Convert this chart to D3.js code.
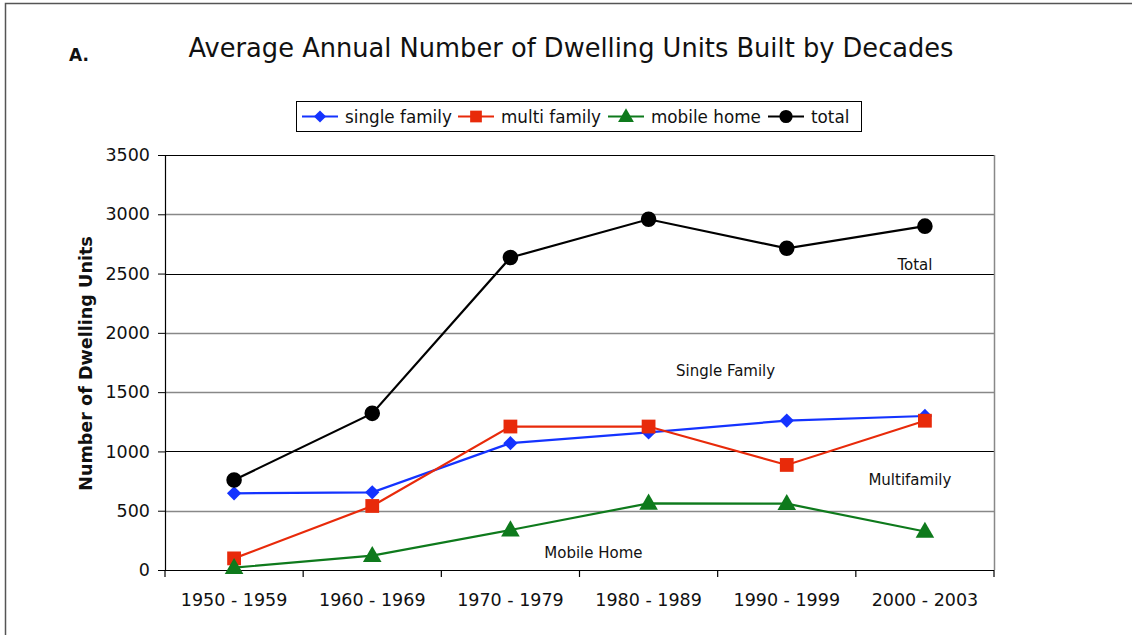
<!DOCTYPE html>
<html>
<head>
<meta charset="utf-8">
<script src="https://cdn.jsdelivr.net/npm/d3@7"></script>
<style>
  body { margin: 0; background: #fff; }
  svg { display: block; font-family: 'DejaVu Sans', sans-serif; }
</style>
</head>
<body>
<svg width="1132" height="635"></svg>
<script>
const w = 1132;
const h = 635;

// decades on the x axis
const decades = ['1950 - 1959', '1960 - 1969', '1970 - 1979', '1980 - 1989', '1990 - 1999', '2000 - 2003'];
// values
const singleFamily = [647, 655, 1070, 1160, 1260, 1299];
const multiFamily = [98, 540, 1210, 1210, 886, 1259];
const mobileHome = [20, 121, 337, 562, 559, 325];
const total = [759, 1321, 2635, 2958, 2713, 2900];
const yTicks = [0, 500, 1000, 1500, 2000, 2500, 3000, 3500];

const seriesNames = ['single family', 'multi family', 'mobile home', 'total'];
const seriesColors = ['#1433ff', '#e82a0a', '#0e7a1c', '#000000'];
const seriesShapes = ['diamond', 'square', 'triangle', 'circle'];
const seriesValues = [singleFamily, multiFamily, mobileHome, total];

const annotations = [
  { text: 'Total', decade: 5, value: 2530, dx: -10 },
  { text: 'Single Family', decade: 3, value: 1635, dx: 77 },
  { text: 'Multifamily', decade: 5, value: 715, dx: -15 },
  { text: 'Mobile Home', decade: 2, value: 105, dx: 83 }
];

const margin = { left: 165, right: 1132 - 994, top: 155, bottom: 635 - 570 };

const svg = d3.select('svg');

// outer frame (top and left edges visible)
svg.append('path')
  .attr('d', `M5.5,${h} L5.5,3.5 L${w},3.5`)
  .attr('fill', 'none')
  .attr('stroke', '#555')
  .attr('stroke-width', 1.5);

const xScale = d3.scaleBand()
  .domain(decades)
  .range([margin.left, w - margin.right]);

const yScale = d3.scaleLinear()
  .domain([0, 3500])
  .range([h - margin.bottom, margin.top]);

// horizontal grid lines
const darkLine = d => d === 1000 || d === 2500 || d === 3500;
svg.append('g')
  .selectAll('line')
  .data(yTicks.filter(d => d > 0))
  .enter()
  .append('line')
  .attr('x1', margin.left)
  .attr('x2', w - margin.right)
  .attr('y1', d => Math.round(yScale(d)) + 0.5)
  .attr('y2', d => Math.round(yScale(d)) + 0.5)
  .attr('stroke', d => darkLine(d) ? '#000' : '#888')
  .attr('stroke-width', d => darkLine(d) ? 1 : 1.6);

// right edge of the plot area
svg.append('line')
  .attr('x1', w - margin.right + 0.5)
  .attr('x2', w - margin.right + 0.5)
  .attr('y1', yScale(3500))
  .attr('y2', yScale(0))
  .attr('stroke', '#888')
  .attr('stroke-width', 1.5);

// y axis
const yAxis = svg.append('g')
  .attr('transform', `translate(${margin.left},0)`)
  .call(d3.axisLeft(yScale).tickValues(yTicks).tickFormat(d3.format('d')).tickSize(7).tickPadding(8).tickSizeOuter(0));
yAxis.select('.domain').attr('stroke', '#000').attr('stroke-width', 1.2);
yAxis.selectAll('.tick line').attr('stroke', '#000');
yAxis.selectAll('.tick text')
  .attr('font-family', 'DejaVu Sans, sans-serif')
  .attr('font-size', 17.5)
  .attr('fill', '#111');

// x axis with ticks on band boundaries
const xAxis = svg.append('g')
  .attr('transform', `translate(0,${yScale(0)})`)
  .call(d3.axisBottom(xScale).tickSize(0).tickPadding(24));
xAxis.select('.domain').remove();
xAxis.selectAll('.tick text')
  .attr('font-family', 'DejaVu Sans, sans-serif')
  .attr('font-size', 17.5)
  .attr('fill', '#111');

const xLine = svg.append('g');
xLine.append('line')
  .attr('x1', margin.left - 7)
  .attr('x2', w - margin.right)
  .attr('y1', yScale(0) + 0.5)
  .attr('y2', yScale(0) + 0.5)
  .attr('stroke', '#000')
  .attr('stroke-width', 1.2);
xLine.selectAll('line.tick')
  .data(decades.concat(['end']))
  .enter()
  .append('line')
  .attr('class', 'tick')
  .attr('x1', (d, i) => margin.left + i * xScale.bandwidth())
  .attr('x2', (d, i) => margin.left + i * xScale.bandwidth())
  .attr('y1', yScale(0))
  .attr('y2', yScale(0) + 7)
  .attr('stroke', '#000')
  .attr('stroke-width', 1.2);

const cx = d => xScale(d) + xScale.bandwidth() / 2;

const symbolFor = shape => {
  if (shape === 'diamond') return d3.symbol().type(d3.symbolDiamond2).size(130)();
  if (shape === 'square') return d3.symbol().type(d3.symbolSquare).size(190)();
  if (shape === 'triangle') return d3.symbol().type(d3.symbolTriangle).size(150)();
  return d3.symbol().type(d3.symbolCircle).size(190)();
};

const line = d3.line()
  .x((d, i) => cx(decades[i]))
  .y(d => yScale(d));

seriesValues.forEach((vals, s) => {
  svg.append('path')
    .datum(vals)
    .attr('d', line)
    .attr('fill', 'none')
    .attr('stroke', seriesColors[s])
    .attr('stroke-width', 2.2);
  svg.append('g')
    .selectAll('path')
    .data(vals)
    .enter()
    .append('path')
    .attr('d', symbolFor(seriesShapes[s]))
    .attr('transform', (d, i) => `translate(${cx(decades[i])},${yScale(d) + (seriesShapes[s] === 'triangle' ? 1 : 0)})`)
    .attr('fill', seriesColors[s]);
});

// in-plot annotations
svg.append('g')
  .selectAll('text')
  .data(annotations)
  .enter()
  .append('text')
  .attr('x', d => cx(decades[d.decade]) + d.dx)
  .attr('y', d => yScale(d.value))
  .attr('text-anchor', 'middle')
  .attr('font-size', 15)
  .attr('fill', '#111')
  .text(d => d.text);

// title
svg.append('text')
  .attr('x', 571)
  .attr('y', 57)
  .attr('text-anchor', 'middle')
  .attr('font-size', 25.7)
  .attr('fill', '#111')
  .text('Average Annual Number of Dwelling Units Built by Decades');

svg.append('text')
  .attr('x', 69)
  .attr('y', 61)
  .attr('font-size', 17)
  .attr('font-weight', 'bold')
  .attr('fill', '#111')
  .text('A.');

// y axis title
svg.append('text')
  .attr('transform', `translate(92,${(yScale(0) + yScale(3500)) / 2 + 1}) rotate(-90)`)
  .attr('text-anchor', 'middle')
  .attr('font-size', 17.6)
  .attr('font-weight', 'bold')
  .attr('fill', '#111')
  .text('Number of Dwelling Units');

// legend
const legend = svg.append('g').attr('transform', 'translate(296,101)');
legend.append('rect')
  .attr('x', 0.5)
  .attr('y', 0.5)
  .attr('width', 565)
  .attr('height', 30)
  .attr('fill', '#fff')
  .attr('stroke', '#000');

const legendX = [6, 162, 312, 472];
seriesNames.forEach((name, s) => {
  const g = legend.append('g').attr('transform', `translate(${legendX[s]},15.5)`);
  g.append('line')
    .attr('x1', 0)
    .attr('x2', 36)
    .attr('stroke', seriesColors[s])
    .attr('stroke-width', 2.2);
  g.append('path')
    .attr('d', symbolFor(seriesShapes[s]))
    .attr('transform', `translate(18,${seriesShapes[s] === 'triangle' ? 1 : 0}) scale(0.85)`)
    .attr('fill', seriesColors[s]);
  g.append('text')
    .attr('x', 43)
    .attr('y', 6)
    .attr('font-size', 16.8)
    .attr('fill', '#111')
    .text(name);
});
</script>
</body>
</html>
